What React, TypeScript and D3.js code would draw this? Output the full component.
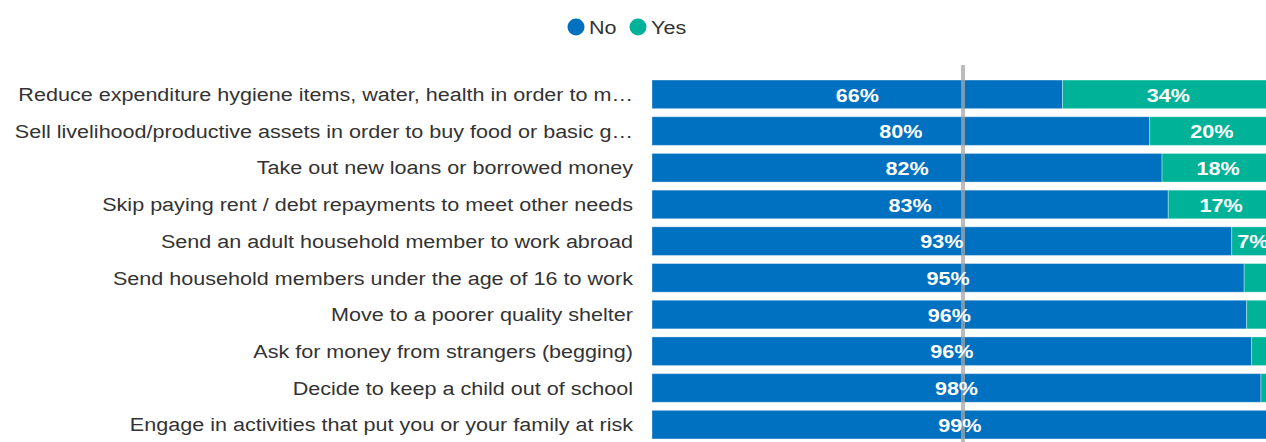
import React from "react";
import * as d3 from "d3";

const categories = [
  "Reduce expenditure hygiene items, water, health in order to m…",
  "Sell livelihood/productive assets in order to buy food or basic g…",
  "Take out new loans or borrowed money",
  "Skip paying rent / debt repayments to meet other needs",
  "Send an adult household member to work abroad",
  "Send household members under the age of 16 to work",
  "Move to a poorer quality shelter",
  "Ask for money from strangers (begging)",
  "Decide to keep a child out of school",
  "Engage in activities that put you or your family at risk",
];
const noValues = [66, 80, 82, 83, 93.2, 95.2, 95.6, 96.4, 97.9, 99];
const yesValues = [34, 20, 18, 17, 6.8, 4.8, 4.4, 3.6, 2.1, 1];
const seriesNames = ["No", "Yes"];
const colors = ["#0070C0", "#00B398"];

const W = 1266;
const H = 442;
const FONT = "'Liberation Sans', Arial, sans-serif";
const FS = 19;
const SX = 1.135;

function T(props: {
  x: number;
  y: number;
  anchor?: "start" | "middle" | "end";
  fill?: string;
  bold?: boolean;
  children: React.ReactNode;
}) {
  return (
    <text
      transform={`translate(${props.x},${props.y}) scale(${SX},1)`}
      dy="0.35em"
      textAnchor={props.anchor || "start"}
      fontSize={FS}
      fontWeight={props.bold ? "bold" : "normal"}
      fill={props.fill || "#333"}
    >
      {props.children}
    </text>
  );
}

export default function App() {
  const x = d3.scaleLinear().domain([0, 100]).range([652, 1274]);
  const y = d3
    .scaleBand<string>()
    .domain(categories)
    .range([76, 443])
    .paddingInner(0.22)
    .paddingOuter(0.11);
  const bh = y.bandwidth();
  const rows = categories.map((c, i) => ({ c, vals: [noValues[i], yesValues[i]] }));

  return (
    <div style={{ position: "absolute", left: 0, top: 0 }}>
      <svg width={W} height={H} style={{ display: "block", fontFamily: FONT }}>
        <rect width={W} height={H} fill="#fff" />
        {/* legend */}
        <g>
          <circle cx={576} cy={27} r={8.5} fill={colors[0]} />
          <T x={589} y={27}>{seriesNames[0]}</T>
          <circle cx={638} cy={27} r={8.5} fill={colors[1]} />
          <T x={651} y={27}>{seriesNames[1]}</T>
        </g>
        {rows.map((r) => {
          const yy = y(r.c)!;
          let acc = 0;
          return (
            <g key={r.c}>
              <T x={633} y={yy + bh / 2} anchor="end">
                {r.c}
              </T>
              {r.vals.map((v, k) => {
                const x0 = x(acc);
                const x1 = x(acc + v);
                acc += v;
                return (
                  <rect
                    key={k}
                    x={x0}
                    y={yy}
                    width={x1 - x0}
                    height={bh}
                    fill={colors[k]}
                    stroke="#ffffff"
                    strokeOpacity={0.35}
                    strokeWidth={1}
                  />
                );
              })}
            </g>
          );
        })}
        {/* reference line */}
        <rect x={x(50) - 2} y={65} width={4} height={H - 65} fill="#a6a6a6" opacity={0.75} />
        {rows.map((r) => {
          const yy = y(r.c)!;
          let acc = 0;
          return (
            <g key={r.c + "-lbl"}>
              {r.vals.map((v, k) => {
                const x0 = x(acc);
                const x1 = x(acc + v);
                acc += v;
                if (Math.round(v) < 6) return null;
                return (
                  <T key={k} x={(x0 + x1) / 2} y={yy + bh / 2 + 0.5} anchor="middle" fill="#fff" bold>
                    {Math.round(v) + "%"}
                  </T>
                );
              })}
            </g>
          );
        })}
      </svg>
    </div>
  );
}
